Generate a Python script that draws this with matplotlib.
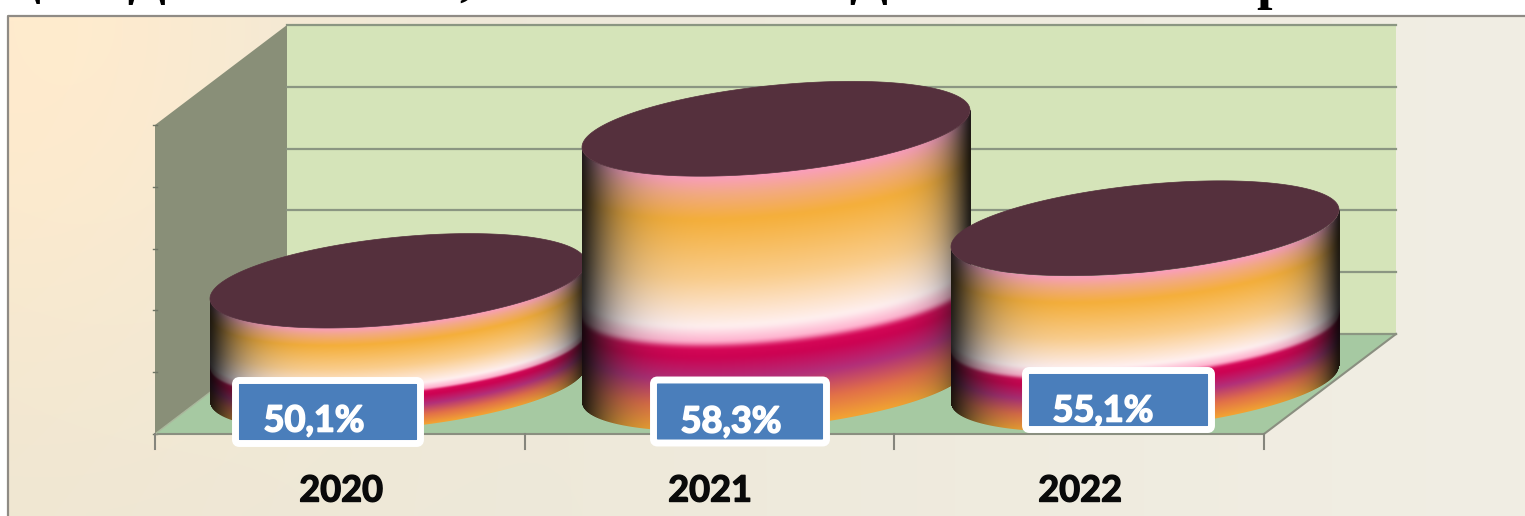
import numpy as np
import matplotlib
matplotlib.use("Agg")
import matplotlib.pyplot as plt
import matplotlib.patheffects as pe
from matplotlib.patches import Polygon, FancyBboxPatch

# ---- data ----
years = ["2020", "2021", "2022"]
value_labels = ["50,1%", "58,3%", "55,1%"]
# drawn cylinder heights, in grid steps of the chart's hidden value axis
cylinder_levels = [1.67, 4.13, 2.52]
grid_levels = [0, 1, 2, 3, 4, 5]
# legible fragments of the heading, which the crop cuts off at the top
heading_fragments = ["ц", "Д", ",", "Д", "р"]

# ---- layout (pixels) ----
W, H = 1525, 516
STEP = 61.8
BACK_FLOOR_Y, FRONT_FLOOR_Y = 334, 434
LEFT_FRONT, LEFT_BACK, RIGHT_FRONT, RIGHT_BACK = 155, 287, 1264, 1396
CX = [398, 776, 1145]
RX = [188, 194, 194]
BASE_Y = 384
RY = 43.7
SKEW = -0.095
BOXES = [(235.5, 380.5, 185, 63), (653.5, 380, 173, 63), (1025.5, 370.5, 186, 59)]
LABEL_XY = [(314, 421), (731, 422), (1103, 411)]
YEAR_X = [341, 710, 1080]
YEAR_Y = 491
TICK_X = [155, 525, 894, 1264]
HEAD_X = [24, 146, 466, 868, 1272]
HEAD_BASE = [-6, -7, -6, -7, -2]

plt.rcParams["font.family"] = ["Lato", "DejaVu Sans"]
fig = plt.figure(figsize=(W / 100, H / 100), dpi=100, facecolor="white")
ax = fig.add_axes([0, 0, 1, 1])


def level_y(level, base):
    return base - level * STEP


# background panel
yy, xx = np.mgrid[0:1:60j, 0:1:160j]
glow = np.exp(-((xx / 0.20) ** 2 + (yy / 0.8) ** 2))
c0, c1, c2 = np.array([236, 230, 212.]), np.array([241, 238, 228.]), np.array([255, 235, 205.])
bg = c0 + (c1 - c0) * xx[..., None] + glow[..., None] * (c2 - c0)
ax.imshow(np.clip(bg, 0, 255) / 255, extent=(9, W, H + 1, 17), aspect="auto", zorder=0, interpolation="bilinear")
ax.plot([8, 8, W], [H + 2, 16, 16], color="#8f8b85", lw=1.6, zorder=1, solid_joinstyle="round")

# walls and floor
ax.add_patch(Polygon([(LEFT_BACK, level_y(5, BACK_FLOOR_Y)), (RIGHT_BACK, level_y(5, BACK_FLOOR_Y)),
                      (RIGHT_BACK, BACK_FLOOR_Y), (LEFT_BACK, BACK_FLOOR_Y)], fc="#d5e4b9", ec="none", zorder=1))
ax.add_patch(Polygon([(LEFT_FRONT, level_y(5, FRONT_FLOOR_Y)), (LEFT_BACK, level_y(5, BACK_FLOOR_Y)),
                      (LEFT_BACK, BACK_FLOOR_Y), (LEFT_FRONT, FRONT_FLOOR_Y)], fc="#898f78", ec="none", zorder=1))
ax.add_patch(Polygon([(LEFT_FRONT, FRONT_FLOOR_Y), (LEFT_BACK, BACK_FLOOR_Y), (RIGHT_BACK, BACK_FLOOR_Y),
                      (RIGHT_FRONT, FRONT_FLOOR_Y)], fc="#a6c9a2", ec="none", zorder=1))
for g in grid_levels:
    y = level_y(g, BACK_FLOOR_Y)
    ax.plot([LEFT_BACK, RIGHT_BACK], [y, y], color="#8b9682", lw=1.6, zorder=2)
    yf = level_y(g, FRONT_FLOOR_Y)
    ax.plot([LEFT_FRONT - 2, LEFT_FRONT + 2], [yf, yf], color="#6f7565", lw=1, zorder=2)
ax.plot([LEFT_FRONT, RIGHT_FRONT, RIGHT_BACK], [FRONT_FLOOR_Y, FRONT_FLOOR_Y, BACK_FLOOR_Y], color="#8a8f80", lw=1.5, zorder=2)
ax.plot([LEFT_FRONT, LEFT_BACK], [FRONT_FLOOR_Y, BACK_FLOOR_Y], color="#a9b79c", lw=1, zorder=2)
for tx in TICK_X:
    ax.plot([tx, tx], [FRONT_FLOOR_Y, FRONT_FLOOR_Y + 15], color="#85857c", lw=1.5, zorder=2)

# cylinders: one colour ramp up the height, rim shading across the width
STOPS = np.array([0.0, 0.10, 0.20, 0.29, 0.325, 0.35, 0.41, 0.60, 0.83, 0.93, 1.0])
COLS = np.array([[243, 165, 50], [226, 112, 72], [178, 48, 122], [205, 2, 82], [214, 8, 88], [255, 175, 205],
                 [255, 240, 240], [250, 205, 140], [245, 175, 58], [243, 170, 130], [250, 158, 190]], float)
LUT_T = np.linspace(0, 1, 512)
KERNEL = np.ones(11) / 11
LUT = np.stack([np.convolve(np.pad(np.interp(LUT_T, STOPS, COLS[:, i]), 5, mode="edge"), KERNEL, mode="valid")
                for i in range(3)], axis=-1)
TOP_COL = "#55303d"


def cylinder(cx, a, height, z):
    cy = BASE_Y - height
    x = np.arange(cx - a, cx + a + 1.0)
    y = np.arange(cy - RY - 30, BASE_Y + RY + 30, 1.0)
    X, Y = np.meshgrid(x + 0.5, y + 0.5)
    u = np.clip((X - cx) / a, -1, 1)
    front = BASE_Y + SKEW * a * u + RY * np.sqrt(1 - u ** 2)
    t = np.clip((front - Y) / height, 0, 1)
    rgb = np.stack([np.interp(t, LUT_T, LUT[:, i]) for i in range(3)], axis=-1)
    left = 1 - 0.85 * np.exp(-(((u + 1) / 0.16) ** 1.2))
    right = 1 - 0.85 * np.exp(-(((1 - u) / 0.12) ** 1.2))
    shade = left * right
    grey = rgb.mean(axis=-1, keepdims=True)
    rgb = (rgb + (grey - rgb) * (1 - shade[..., None]) * 0.45) * shade[..., None]
    alpha = np.clip(front - Y + 0.5, 0, 1) * np.clip(Y - (front - height) + 0.5, 0, 1)
    img = np.dstack([np.clip(rgb, 0, 255) / 255, alpha])
    ax.imshow(img, extent=(x[0], x[-1] + 1, y[-1] + 1, y[0]), aspect="auto", zorder=z, interpolation="bilinear")
    th = np.linspace(0, 2 * np.pi, 240)
    ex = a * np.cos(th)
    ey = cy + SKEW * ex + RY * np.sin(th)
    ax.add_patch(Polygon(np.column_stack([cx + ex, ey]), fc=TOP_COL, ec=TOP_COL, lw=0.5, zorder=z + 0.1))


for i, lvl in enumerate(cylinder_levels):
    cylinder(CX[i], RX[i], lvl * STEP, 3 + i)

# value label boxes
for (bx, by, bw, bh), (lx, ly), s in zip(BOXES, LABEL_XY, value_labels):
    ax.add_patch(FancyBboxPatch((bx, by), bw, bh, boxstyle="round,pad=0,rounding_size=4",
                                fc="#4a7ebb", ec="white", lw=5, zorder=8))
    ax.text(lx, ly, s, color="white", fontsize=26, fontweight="bold", ha="center", va="center", zorder=9,
            path_effects=[pe.withStroke(linewidth=1.2, foreground="white")])

for x, s in zip(YEAR_X, years):
    ax.text(x, YEAR_Y, s, color="#0a0a0a", fontsize=26, fontweight="bold", ha="center", va="center", zorder=9,
            path_effects=[pe.withStroke(linewidth=1.0, foreground="#0a0a0a")])

# heading, cut off by the top of the picture
for x, yb, s in zip(HEAD_X, HEAD_BASE, heading_fragments):
    ax.text(x, yb, s, color="black", fontsize=40, fontweight="bold", family="Liberation Serif",
            ha="center", va="baseline", zorder=9, clip_on=True)

ax.set_xlim(0, W)
ax.set_ylim(H, 0)
ax.axis("off")
fig.savefig("out.png", dpi=100, facecolor="white")
